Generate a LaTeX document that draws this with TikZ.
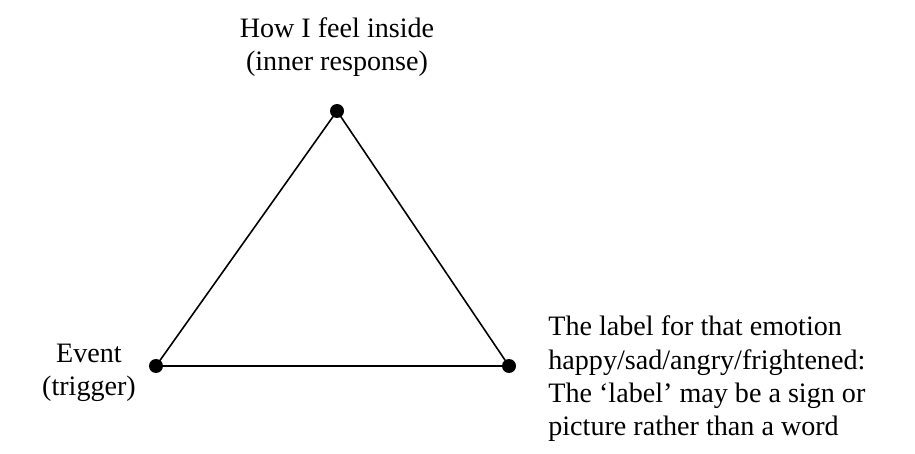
\documentclass[tikz,border=0pt]{standalone}
\usepackage{fontspec}
\setmainfont{Liberation Serif}
\usetikzlibrary{positioning}

\begin{document}
\begin{tikzpicture}[
  font=\fontsize{16}{19}\selectfont,
  dot/.style={circle,fill=black,minimum size=0.28cm,inner sep=0pt},
  lbl/.style={align=center,inner sep=0pt},
  edge/.style={draw,line width=0.9pt}
]
\useasboundingbox (0,0) rectangle (18.3,9.06);
% corners of the triangle
\node[dot] (inner) at (6.74,6.84) {};
\node[dot] (event) at (3.12,1.74) {};
\node[dot] (emo) at (10.18,1.74) {};
\draw[edge] (inner.center) -- (event.center) -- (emo.center) -- cycle;
% texts
\node[lbl] (innerlbl) at (6.74,8.12) {How I feel inside\\(inner response)};
\node[lbl] (eventlbl) at (1.78,1.6) {Event\\(trigger)};
\node[lbl,align=left,anchor=west] (emolbl) at (10.96,1.48)
  {The label for that emotion\\happy/sad/angry/frightened:\\The `label' may be a sign or\\picture rather than a word};
\end{tikzpicture}
\end{document}
